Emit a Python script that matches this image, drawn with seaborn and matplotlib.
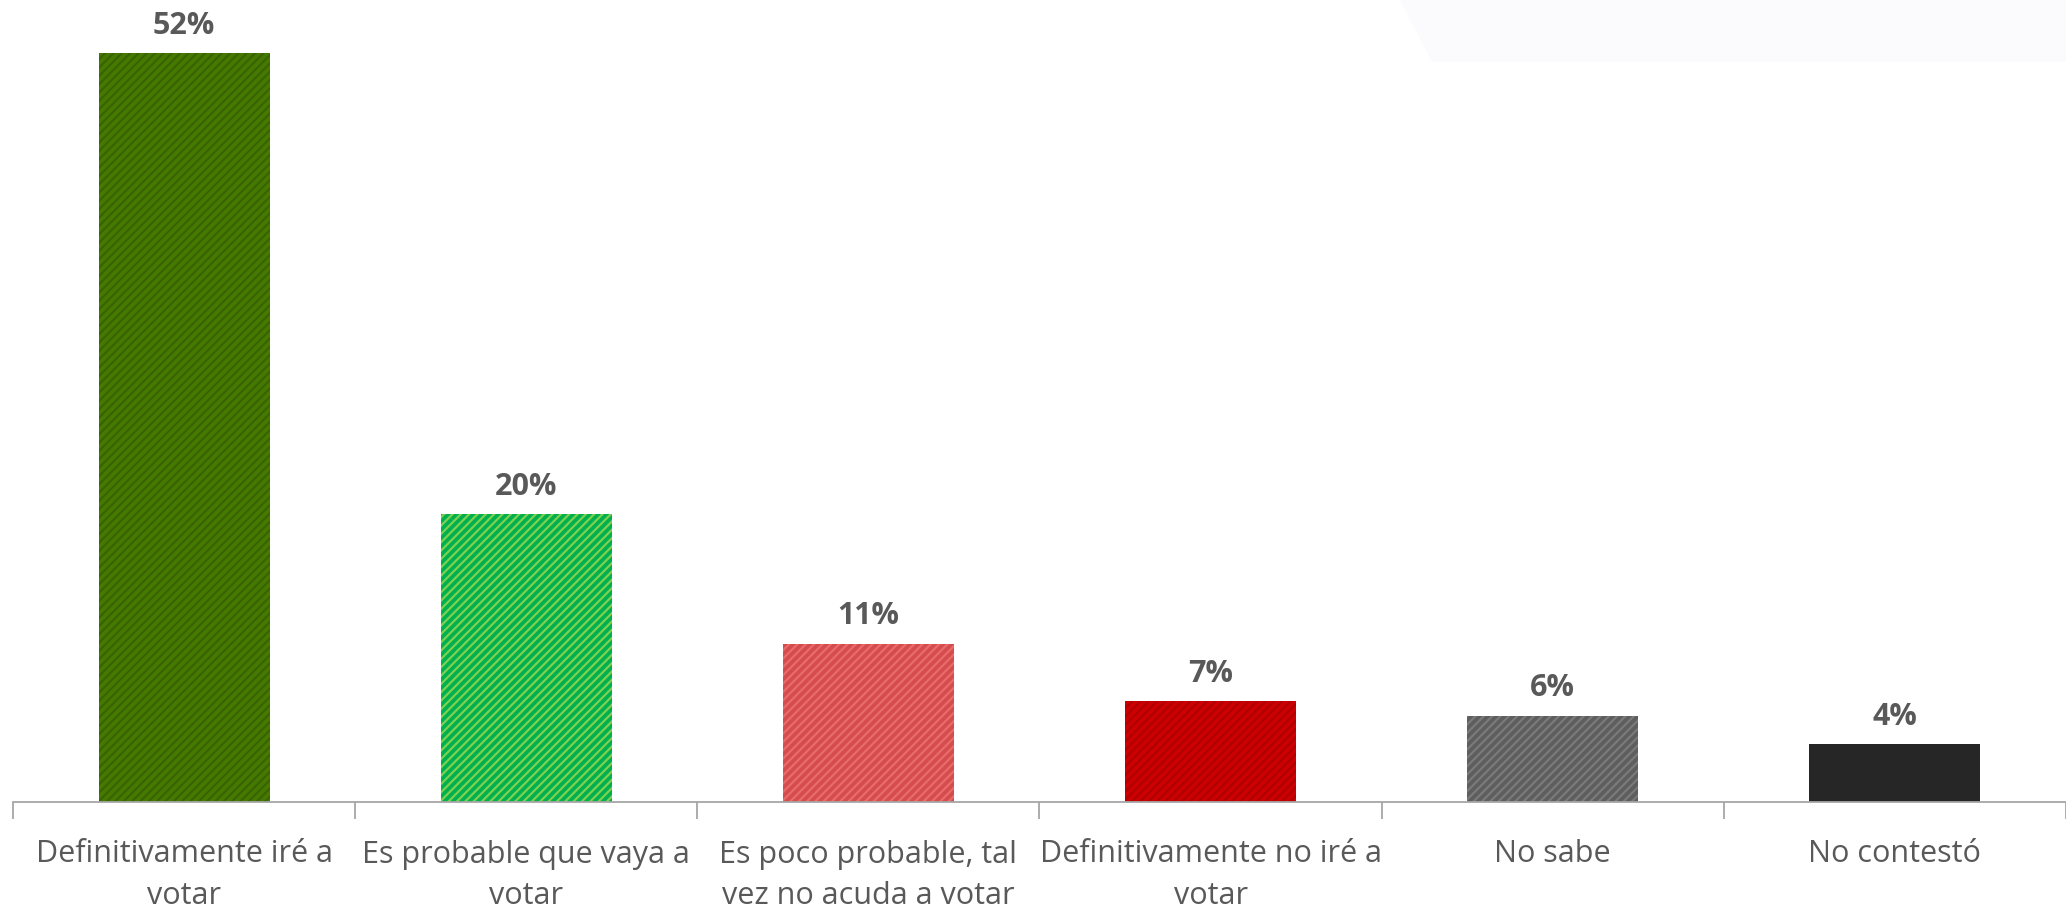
import matplotlib
matplotlib.use("Agg")
import matplotlib.pyplot as plt
import seaborn as sns
import pandas as pd
from matplotlib.patches import Polygon

categories = ["Definitivamente iré a\nvotar", "Es probable que vaya a\nvotar",
              "Es poco probable, tal\nvez no acuda a votar", "Definitivamente no iré a\nvotar",
              "No sabe", "No contestó"]
values = [52, 20, 11, 7, 6, 4]
labels = ["52%", "20%", "11%", "7%", "6%", "4%"]
fill_colors = ["#457A00", "#00B04F", "#D64B4B", "#CC0000", "#5E5E5E", "#262626"]
hatch_colors = ["#3A6300", "#7DD050", "#E86B6B", "#B00000", "#7A7A7A", "#262626"]

sns.set_theme(style="white")
plt.rcParams['font.family'] = ['Open Sans', 'DejaVu Sans']
plt.rcParams['hatch.linewidth'] = 1.6

fig = plt.figure(figsize=(20.66, 9.09), dpi=100)
# faint background shape at top right
fig.patches.append(Polygon([[1400/2066, 1.0], [1.0, 1.0], [1.0, 1 - 62/909], [1432/2066, 1 - 62/909]],
                           closed=True, transform=fig.transFigure, facecolor="#FBFBFD",
                           edgecolor="none", zorder=0))
ax = fig.add_axes([13/2066, 1 - 802/909, 1 - 13/2066, 802/909])
ax.set_facecolor("none")

df = pd.DataFrame({"cat": categories, "val": values})
sns.barplot(data=df, x="cat", y="val", hue="cat", palette=fill_colors, width=0.5,
            legend=False, ax=ax, saturation=1)

for i, p in enumerate(ax.patches[:len(values)]):
    p.set_facecolor(fill_colors[i])
    p.set_edgecolor(hatch_colors[i])
    p.set_linewidth(0)
    if i < 5:
        p.set_hatch("////")

for i, (v, lab) in enumerate(zip(values, labels)):
    ax.annotate(lab, (i, v), xytext=(0, 9), textcoords="offset points", ha="center",
                va="bottom", fontsize=22, fontweight="bold", color="#595959")

ax.set_ylim(0, 55.7)
ax.set_xlim(-0.5, 5.5)
ax.set_yticks([])
ax.set_xlabel("")
ax.set_ylabel("")
for s in ["top", "right", "left"]:
    ax.spines[s].set_visible(False)
ax.spines["bottom"].set_color("#A6A6A6")
ax.spines["bottom"].set_linewidth(1.3)

ax.set_xticks(range(len(categories)))
ax.set_xticklabels(categories, fontsize=22, color="#595959", linespacing=1.52)
ax.tick_params(axis="x", which="major", bottom=False, length=0, pad=27)
ax.set_xticks([i - 0.5 for i in range(len(categories) + 1)], minor=True)
ax.tick_params(axis="x", which="minor", bottom=True, length=12, width=1.3,
               color="#A6A6A6", direction="out")

fig.savefig("out.png", dpi=100)
